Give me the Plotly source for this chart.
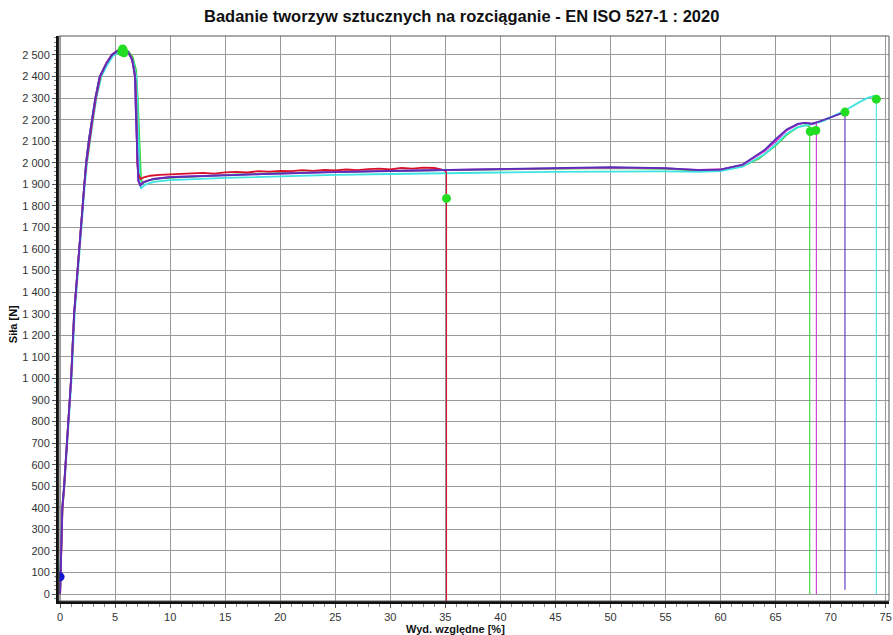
import plotly.graph_objects as go

TITLE = "Badanie tworzyw sztucznych na rozciąganie - EN ISO 527-1 : 2020"
X_TITLE = "Wyd. względne [%]"
Y_TITLE = "Siła [N]"

X_TICKS = [0, 5, 10, 15, 20, 25, 30, 35, 40, 45, 50, 55, 60, 65, 70, 75]
Y_TICKS = [0, 100, 200, 300, 400, 500, 600, 700, 800, 900, 1000, 1100, 1200, 1300,
           1400, 1500, 1600, 1700, 1800, 1900, 2000, 2100, 2200, 2300, 2400, 2500]
Y_TICK_LABELS = [f"{v:,}".replace(",", " ") for v in Y_TICKS]

# Specimen 1 (red) - breaks at 35.1 %
red_x = [0, 0.06, 0.12, 0.22, 0.38, 0.62, 1.0, 1.28, 1.58, 1.9, 2.2, 2.4, 2.65, 2.95,
         3.25, 3.65, 4.2, 4.7, 5.2, 5.65, 6.1, 6.45, 6.7, 6.85, 6.95, 7.0, 7.1, 7.3,
         7.6, 8.2, 9, 10, 11, 12, 13, 14, 15, 16, 17, 18, 19, 20, 21, 22, 23, 24, 25,
         26, 27, 28, 29, 30, 31, 32, 33, 34, 34.6, 35.0, 35.1, 35.1]
red_y = [0, 100, 200, 400, 500, 700, 1000, 1300, 1500, 1700, 1900, 2000, 2100, 2200,
         2300, 2400, 2462, 2500, 2518, 2524, 2515, 2490, 2440, 2380, 2200, 2000, 1950,
         1925, 1932, 1940, 1944, 1946, 1949, 1951, 1953, 1950, 1956, 1958, 1955, 1961,
         1959, 1963, 1961, 1966, 1963, 1967, 1965, 1969, 1966, 1971, 1973, 1969, 1976,
         1973, 1978, 1976, 1970, 1962, 1955, -32]

# Specimen 2 (green) - breaks at 68.1 %
green_x = [0, 0.05, 0.1, 0.2, 0.36, 0.6, 1.0, 1.27, 1.57, 1.88, 2.18, 2.36, 2.6, 2.9,
           3.2, 3.6, 4.2, 4.7, 5.2, 5.7, 6.2, 6.6, 6.9, 7.05, 7.15, 7.25, 7.35, 7.5,
           8.0, 9.0, 12, 15, 20, 25, 30, 35, 40, 45, 50, 55, 58, 60, 62, 63.5, 65, 66,
           67, 67.7, 68.1, 68.1]
green_y = [0, 100, 200, 400, 500, 700, 1000, 1300, 1500, 1700, 1900, 2000, 2100, 2200,
           2300, 2400, 2460, 2500, 2520, 2530, 2518, 2490, 2430, 2300, 2150, 2000,
           1925, 1905, 1918, 1928, 1937, 1944, 1953, 1959, 1963, 1966, 1970, 1972, 1975,
           1972, 1964, 1967, 1985, 2020, 2080, 2130, 2165, 2175, 2170, 0]

# Specimen 3 (magenta) - breaks at 68.7 %
mag_x = [0, 0.05, 0.1, 0.2, 0.36, 0.6, 1.0, 1.27, 1.57, 1.88, 2.18, 2.36, 2.6, 2.9,
         3.2, 3.6, 4.2, 4.7, 5.2, 5.7, 6.2, 6.55, 6.8, 6.9, 7.0, 7.1, 7.25, 7.6, 8.5,
         10, 15, 20, 25, 30, 35, 40, 45, 50, 55, 58, 60, 62, 64, 65, 66, 67, 67.7,
         68.3, 68.7, 68.7]
mag_y = [0, 100, 200, 400, 500, 700, 1000, 1300, 1500, 1700, 1900, 2000, 2100, 2200,
         2300, 2400, 2462, 2502, 2520, 2526, 2514, 2480, 2400, 2200, 2000, 1920, 1898,
         1912, 1926, 1935, 1943, 1952, 1958, 1963, 1966, 1971, 1975, 1978, 1974, 1967,
         1970, 1990, 2055, 2100, 2150, 2178, 2186, 2180, 2185, 0]

# Specimen 4 (navy) - breaks at 71.3 %
navy_x = [0, 0.05, 0.1, 0.2, 0.36, 0.6, 1.0, 1.27, 1.57, 1.88, 2.18, 2.36, 2.6, 2.9,
          3.2, 3.6, 4.2, 4.7, 5.2, 5.7, 6.2, 6.55, 6.8, 6.9, 7.0, 7.1, 7.3, 7.6, 8.5,
          10, 15, 20, 25, 30, 35, 40, 45, 50, 55, 58, 60, 62, 64, 65, 66, 67, 67.6,
          68.3, 69, 70, 71.3, 71.3]
navy_y = [0, 100, 200, 400, 500, 700, 1000, 1300, 1500, 1700, 1900, 2000, 2100, 2200,
          2300, 2400, 2460, 2500, 2518, 2524, 2512, 2478, 2400, 2200, 2000, 1915, 1895,
          1910, 1925, 1933, 1942, 1950, 1957, 1962, 1966, 1972, 1977, 1980, 1975, 1966,
          1968, 1992, 2060, 2110, 2155, 2180, 2185, 2182, 2192, 2210, 2235, 20]

# Specimen 5 (cyan) - breaks at 74.2 %
cyan_x = [0, 0.04, 0.1, 0.22, 0.4, 0.65, 1.05, 1.33, 1.63, 1.95, 2.25, 2.45, 2.7,
          3.0, 3.3, 3.75, 4.3, 4.8, 5.3, 5.75, 6.25, 6.65, 6.95, 7.05, 7.15, 7.25,
          7.35, 7.7, 8.5, 10, 15, 20, 25, 30, 35, 40, 45, 50, 55, 58, 60, 62, 64, 65,
          66, 67, 67.7, 68.5, 69.5, 70.5, 71.5, 72.5, 73.3, 73.9, 74.15, 74.15]
cyan_y = [80, 120, 220, 400, 500, 700, 1000, 1300, 1500, 1700, 1900, 2000, 2100,
          2200, 2300, 2400, 2455, 2495, 2512, 2518, 2505, 2470, 2390, 2200, 2000, 1910,
          1880, 1898, 1912, 1920, 1930, 1938, 1944, 1948, 1950, 1955, 1958, 1960, 1960,
          1958, 1962, 1982, 2040, 2085, 2135, 2165, 2172, 2180, 2198, 2222, 2248, 2278,
          2300, 2310, 2298, 0]

# Marked points
green_dot_x = [5.6, 5.68, 5.75, 5.8, 35.1, 68.15, 68.65, 71.3, 74.15]
green_dot_y = [2515, 2528, 2520, 2510, 1835, 2145, 2150, 2235, 2295]
start_dot_x = [0]
start_dot_y = [80]

series = [
    ("green", green_x, green_y, "#33d633"),
    ("cyan", cyan_x, cyan_y, "#3fe3e3"),
    ("red", red_x, red_y, "#d8102c"),
    ("magenta", mag_x, mag_y, "#cc33cc"),
    ("navy", navy_x, navy_y, "#5a2fb8"),
]

fig = go.Figure()
# curves (without the final vertical break segment)
for name, xs, ys, col in series:
    fig.add_trace(go.Scatter(x=xs[:-1], y=ys[:-1], mode="lines", name=name,
                             line=dict(color=col, width=1.8), showlegend=False,
                             hoverinfo="skip"))
# vertical break segments, thinner
for name, xs, ys, col in series:
    fig.add_trace(go.Scatter(x=xs[-2:], y=ys[-2:], mode="lines", name=name + " break",
                             line=dict(color=col, width=1.1), showlegend=False,
                             hoverinfo="skip"))

fig.add_trace(go.Scatter(x=green_dot_x, y=green_dot_y, mode="markers",
                         marker=dict(color="#22dd22", size=9), showlegend=False,
                         hoverinfo="skip"))
fig.add_trace(go.Scatter(x=start_dot_x, y=start_dot_y, mode="markers",
                         marker=dict(color="#1515d0", size=9), showlegend=False,
                         cliponaxis=False, hoverinfo="skip"))

FONT = "Liberation Sans, Arial, sans-serif"

fig.update_layout(
    width=893, height=635,
    margin=dict(l=59, r=4, t=36, b=34, autoexpand=False),
    paper_bgcolor="white", plot_bgcolor="white",
    title=dict(text=TITLE, x=0.517, xanchor="center", y=0.975, yanchor="middle",
               font=dict(family=FONT, size=16.5, color="#111", weight="bold")),
    font=dict(family=FONT, size=11, color="#333"),
    showlegend=False,
    xaxis=dict(range=[-0.1, 75.3], tickvals=X_TICKS, showgrid=True, automargin=False,
               gridcolor="#9a9a9a", gridwidth=1, zeroline=False,
               showline=True, linecolor="#111", linewidth=3,
               ticks="outside", ticklen=4, tickcolor="#555",
               minor=dict(dtick=1, ticks="outside", ticklen=3, tickcolor="#888",
                          showgrid=False),
               tickfont=dict(size=11, color="#333")),
    yaxis=dict(range=[-32, 2588], tickvals=Y_TICKS, ticktext=Y_TICK_LABELS,
               showgrid=True, automargin=False,
               gridcolor="#9a9a9a", gridwidth=1, zeroline=False,
               showline=True, linecolor="#111", linewidth=3,
               ticks="outside", ticklen=4, tickcolor="#555",
               minor=dict(dtick=20, ticks="outside", ticklen=2, tickcolor="#888",
                          showgrid=False),
               tickfont=dict(size=11, color="#333")),
    shapes=[dict(type="rect", xref="paper", yref="paper", x0=0, x1=1, y0=0, y1=1,
                 line=dict(color="#555", width=1), layer="above")],
    annotations=[
        dict(text="<b>" + X_TITLE + "</b>", xref="paper", yref="paper",
             x=0.478, y=0, yshift=-27.5, xanchor="center", yanchor="middle",
             showarrow=False, font=dict(family=FONT, size=11, color="#111")),
        dict(text="<b>" + Y_TITLE + "</b>", xref="paper", yref="paper",
             x=0, xshift=-46, y=0.49, textangle=-90, xanchor="center",
             yanchor="middle", showarrow=False,
             font=dict(family=FONT, size=11, color="#111")),
    ],
)

fig.write_html(
    "out.html",
    config={"displayModeBar": False},
    post_script="document.body.style.margin='0';document.body.style.overflow='hidden';",
)
